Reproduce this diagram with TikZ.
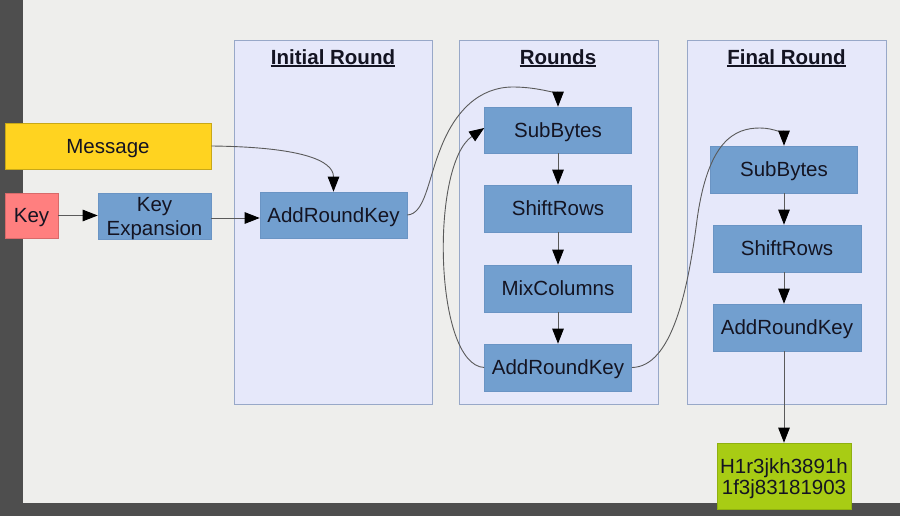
\documentclass[tikz,border=0pt]{standalone}
\usepackage{fontspec}
\setmainfont{Liberation Sans}
\usetikzlibrary{arrows.meta}
\definecolor{bg}{HTML}{EEEEEC}
\definecolor{frame}{HTML}{4E4E4E}
\definecolor{panelfill}{HTML}{E6E8FA}
\definecolor{paneledge}{HTML}{98A8C8}
\definecolor{boxblue}{HTML}{729FCF}
\definecolor{boxedge}{HTML}{6A94C4}
\definecolor{msgyellow}{HTML}{FFD320}
\definecolor{msgedge}{HTML}{C8A818}
\definecolor{keypink}{HTML}{FF7F7F}
\definecolor{keyedge}{HTML}{D86A6A}
\definecolor{outgreen}{HTML}{A8CC14}
\definecolor{outedge}{HTML}{8FB010}
\definecolor{txt}{HTML}{141422}
\definecolor{wire}{HTML}{5A5A5A}
\begin{document}
\begin{tikzpicture}[x=1pt,y=-1pt,
  every node/.style={font=\fontsize{20.5}{23}\selectfont, text=txt},
  boxstyle/.style={draw=boxedge, line width=0.6pt, fill=boxblue, inner sep=0pt, align=center,
                   text height=14.7pt, text depth=0pt},
  twoline/.style={label={[align=center, font=\fontsize{20.5}{#1}\selectfont, text=txt, yshift=-2.8pt]center:{}}},
  panel/.style={draw=paneledge, line width=0.8pt, fill=panelfill},
  title/.style={anchor=base, inner sep=0pt, font=\fontsize{20.5}{23}\selectfont\bfseries},
  uline/.style={line width=1.6pt, draw=txt},
  wirearrow/.style={draw=wire, line width=0.9pt, -{Triangle[length=15pt,width=11.5pt,color=black]}}
]
\useasboundingbox (0,0) rectangle (900,516);
\fill[bg] (0,0) rectangle (900,516);

% screen frame
\fill[frame] (0,0) rectangle (23,516);
\fill[frame] (0,503) rectangle (900,516);

% panels
\draw[panel] (234,40) rectangle (432,404);
\draw[panel] (459,40) rectangle (658,404);
\draw[panel] (687,40) rectangle (886,404);

\node[title] (t1) at (333,64.3) {Initial Round};
\node[title] (t2) at (558,64.3) {Rounds};
\node[title] (t3) at (786.5,64.3) {Final Round};
\foreach \t in {t1,t2,t3}
  \draw[uline] ([yshift=-1.9pt]\t.base west) -- ([yshift=-1.9pt]\t.base east);

% left nodes
\node[boxstyle, draw=msgedge, fill=msgyellow, minimum width=206pt, minimum height=46pt] (msg) at (108,146) {Message};
\node[boxstyle, draw=keyedge, fill=keypink, minimum width=53pt, minimum height=45pt] (key) at (31.5,215.5) {Key};
\node[boxstyle, minimum width=113pt, minimum height=46pt,
      label={[name=kexpt, align=center, font=\fontsize{20.5}{24}\selectfont, text=txt, yshift=-2.8pt]center:Key\\Expansion}] (kexp) at (154.5,216) {};

% initial round
\node[boxstyle, minimum width=147pt, minimum height=46pt] (ark0) at (333.5,215) {AddRoundKey};

% rounds
\node[boxstyle, minimum width=147pt, minimum height=46pt] (sb1) at (558,130) {SubBytes};
\node[boxstyle, minimum width=147pt, minimum height=47pt] (sr1) at (558,208.5) {ShiftRows};
\node[boxstyle, minimum width=147pt, minimum height=47pt] (mc1) at (558,288.5) {MixColumns};
\node[boxstyle, minimum width=147pt, minimum height=47pt] (ark1) at (558,367.5) {AddRoundKey};

% final round
\node[boxstyle, minimum width=147pt, minimum height=47pt] (sb2) at (784,169.5) {SubBytes};
\node[boxstyle, minimum width=148pt, minimum height=47pt] (sr2) at (787,248.5) {ShiftRows};
\node[boxstyle, minimum width=148pt, minimum height=47pt] (ark2) at (787,327.5) {AddRoundKey};

% output
\node[boxstyle, draw=outedge, fill=outgreen, minimum width=134pt, minimum height=66pt,
      label={[name=outt, align=center, font=\fontsize{20.5}{21.5}\selectfont, text=txt, yshift=-2.5pt]center:H1r3jkh3891h\\1f3j83181903}] (out) at (784,476) {};

% connectors
\draw[wirearrow] (key.east) -- (kexp.west |- key.east);
\draw[wirearrow] (kexp.east |- 0,218) -- (ark0.west |- 0,218);
\draw[wirearrow] (msg.east) .. controls (300,147) and (333.5,160) .. (ark0.north);
\draw[wirearrow] (ark0.east) .. controls (425,214) and (428,180) .. (440,150)
  .. controls (455,110) and (480,87) .. (513,87)
  .. controls (540,87) and (558,95) .. (sb1.north);
\draw[wirearrow] (sb1.south) -- (sr1.north);
\draw[wirearrow] (sr1.south) -- (mc1.north);
\draw[wirearrow] (mc1.south) -- (ark1.north);
\draw[wirearrow] (ark1.west) .. controls (434,365) and (430,165) .. ([yshift=2pt]sb1.west);
\draw[wirearrow] (ark1.east) .. controls (672,367) and (688,290) .. (697,220)
  .. controls (708,140) and (735,128) .. (760,128)
  .. controls (775,128) and (784,135) .. (sb2.north);
\draw[wirearrow] (sb2.south) -- (sb2.south |- sr2.north);
\draw[wirearrow] (sb2.south |- sr2.south) -- (sb2.south |- ark2.north);
\draw[wirearrow] (sb2.south |- ark2.south) -- (out.north);
\end{tikzpicture}
\end{document}
